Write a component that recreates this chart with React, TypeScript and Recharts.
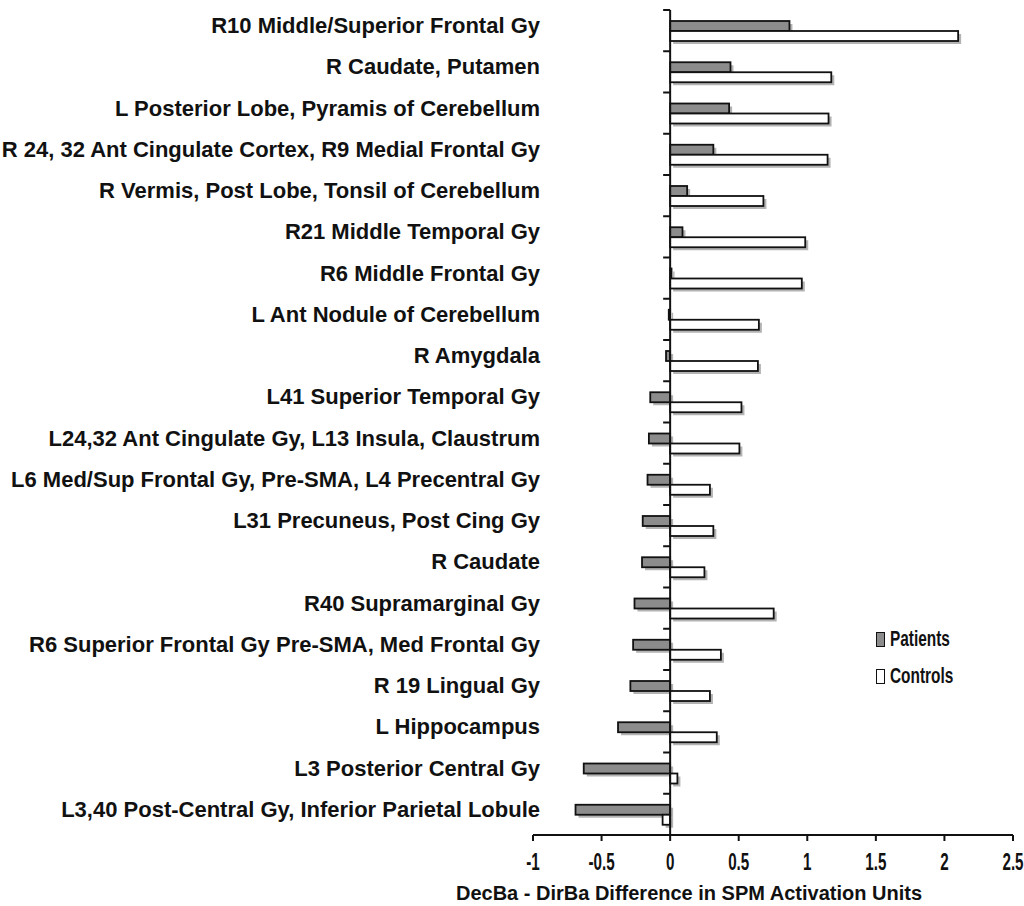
import React from 'react';
import { BarChart, Bar, XAxis, YAxis, ReferenceLine, Legend } from 'recharts';

const regions = [
  'R10 Middle/Superior Frontal Gy',
  'R Caudate, Putamen',
  'L Posterior Lobe, Pyramis of Cerebellum',
  'R 24, 32 Ant Cingulate Cortex, R9 Medial Frontal Gy',
  'R Vermis, Post Lobe, Tonsil of Cerebellum',
  'R21 Middle Temporal Gy',
  'R6 Middle Frontal Gy',
  'L Ant Nodule of Cerebellum',
  'R Amygdala',
  'L41 Superior Temporal Gy',
  'L24,32 Ant Cingulate Gy, L13 Insula, Claustrum',
  'L6 Med/Sup Frontal Gy, Pre-SMA, L4 Precentral Gy',
  'L31 Precuneus, Post Cing Gy',
  'R Caudate',
  'R40 Supramarginal Gy',
  'R6 Superior Frontal Gy Pre-SMA, Med Frontal Gy',
  'R 19 Lingual Gy',
  'L Hippocampus',
  'L3 Posterior Central Gy',
  'L3,40 Post-Central Gy, Inferior Parietal Lobule',
];

const patients = [0.87, 0.44, 0.43, 0.315, 0.124, 0.09, 0.01, -0.01, -0.03, -0.145, -0.155, -0.165, -0.2, -0.205, -0.26, -0.27, -0.29, -0.38, -0.63, -0.69];
const controls = [2.1, 1.175, 1.155, 1.148, 0.68, 0.985, 0.96, 0.647, 0.64, 0.52, 0.505, 0.29, 0.315, 0.25, 0.755, 0.37, 0.29, 0.34, 0.053, -0.055];
const xTicks = [-1, -0.5, 0, 0.5, 1, 1.5, 2, 2.5];
const seriesNames = ['Patients', 'Controls'];
const xTitle = 'DecBa - DirBa Difference in SPM Activation Units';

const data = regions.map((name, i) => ({ name, patients: patients[i], controls: controls[i] }));

const LABEL_FONT = '"Liberation Sans", Arial, sans-serif';
const PATIENT_FILL = '#8c8c8c';
const CONTROL_FILL = '#ffffff';

const makeShadowBar = (fill: string) => (props: any) => {
  const { x, y, width, height } = props;
  if (x == null || y == null) return <g />;
  const x0 = Math.min(x, x + width);
  const w = Math.abs(width);
  const y0 = Math.min(y, y + height);
  const h = Math.abs(height);
  return (
    <g>
      <rect x={x0 + 3} y={y0 + 3} width={w} height={h} fill="#b3b3b3" />
      <rect x={x0} y={y0} width={w} height={h} fill={fill} stroke="#111" strokeWidth={1.8} />
    </g>
  );
};

const YTick = (props: any) => {
  const { x, y, payload } = props;
  return (
    <text x={x + 7} y={y - 5} textAnchor="end" dominantBaseline="central" fontFamily={LABEL_FONT} fontWeight="bold" fontSize={22} fill="#111">
      {payload.value}
    </text>
  );
};

const XTick = (props: any) => {
  const { x, y, payload } = props;
  return (
    <g transform={`translate(${x},${y + 27}) scale(0.66,1)`}>
      <text x={0} y={0} textAnchor="middle" fontFamily={LABEL_FONT} fontWeight="bold" fontSize={23} fill="#111">
        {String(payload.value)}
      </text>
    </g>
  );
};

const ZeroLine = (props: any) => {
  const { x1, y1, x2, y2 } = props;
  const n = regions.length;
  const step = (y2 - y1) / n;
  const ticks = [];
  for (let i = 0; i <= n; i++) {
    const yy = y1 + i * step;
    ticks.push(<line key={i} x1={x1 - 7} y1={yy} x2={x1} y2={yy} stroke="#111" strokeWidth={2} />);
  }
  return (
    <g>
      <line x1={x1} y1={y1} x2={x2} y2={y2} stroke="#111" strokeWidth={2} />
      {ticks}
    </g>
  );
};

const LegendContent = () => {
  return (
    <div style={{ display: 'flex', flexDirection: 'column', gap: 15 }}>
      {seriesNames.map((name) => (
        <div key={name} style={{ display: 'flex', alignItems: 'center', height: 22 }}>
          <span
            style={{
              display: 'inline-block',
              width: 7,
              height: 13,
              background: name === 'Patients' ? PATIENT_FILL : CONTROL_FILL,
              border: '1.5px solid #111',
              marginRight: 5,
            }}
          />
          <span
            style={{
              display: 'inline-block',
              fontFamily: LABEL_FONT,
              fontWeight: 'bold',
              fontSize: 22,
              color: '#111',
              transform: 'scaleX(0.7)',
              transformOrigin: 'left center',
              whiteSpace: 'nowrap',
            }}
          >
            {name}
          </span>
        </div>
      ))}
    </div>
  );
};

export default function App() {
  return (
    <div style={{ position: 'absolute', left: 0, top: 0, background: '#fff' }}>
      <BarChart
        width={1024}
        height={906}
        data={data}
        layout="vertical"
        margin={{ top: 10, right: 11, bottom: 0, left: 0 }}
        barGap={0}
      >
        <XAxis
          type="number"
          domain={[-1, 2.5]}
          ticks={xTicks}
          allowDataOverflow
          height={71}
          axisLine={{ stroke: '#111', strokeWidth: 2 }}
          tickLine={{ stroke: '#111', strokeWidth: 2 }}
          tickSize={6}
          tick={<XTick />}
          label={{
            value: xTitle,
            position: 'insideBottom',
            offset: 6,
            dx: -84,
            style: { fontFamily: LABEL_FONT, fontWeight: 'bold', fontSize: 20, fill: '#111' },
          }}
        />
        <YAxis
          type="category"
          dataKey="name"
          width={533}
          axisLine={false}
          tickLine={false}
          tickSize={0}
          tickMargin={0}
          interval={0}
          tick={<YTick />}
        />
        <Bar dataKey="patients" name="Patients" fill={PATIENT_FILL} barSize={10} shape={makeShadowBar(PATIENT_FILL)} isAnimationActive={false} />
        <Bar dataKey="controls" name="Controls" fill={CONTROL_FILL} barSize={10} shape={makeShadowBar(CONTROL_FILL)} isAnimationActive={false} />
        <ReferenceLine x={0} shape={<ZeroLine />} ifOverflow="visible" />
        <Legend
          content={<LegendContent />}
          layout="vertical"
          align="center"
          verticalAlign="middle"
          wrapperStyle={{ position: 'absolute', left: 876, top: 628, width: 120 }}
        />
      </BarChart>
    </div>
  );
}
